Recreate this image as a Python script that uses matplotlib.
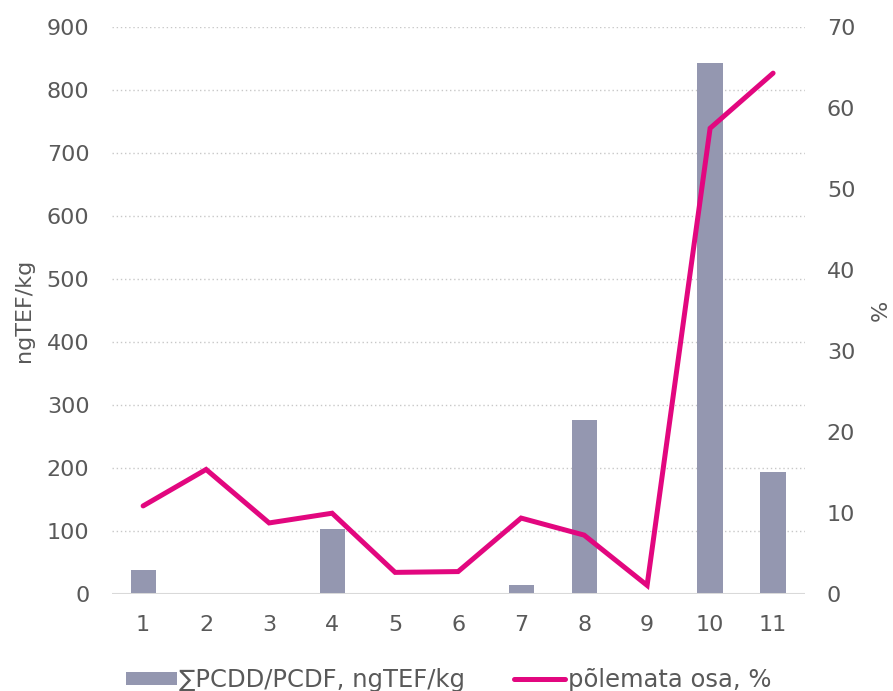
import numpy as np
import matplotlib.pyplot as plt

# sample numbers and measured values
samples = [1, 2, 3, 4, 5, 6, 7, 8, 9, 10, 11]
pcdd_pcdf = [38, 0, 0, 103, 0, 0, 15, 276, 0, 843, 194]   # ngTEF/kg
unburnt = [10.9, 15.4, 8.8, 10.0, 2.7, 2.8, 9.4, 7.3, 1.1, 57.5, 64.3]  # %

bar_color = '#9497B0'
line_color = '#E2077F'
text_color = '#595959'

plt.rcParams['font.family'] = ['DejaVu Sans']

fig = plt.figure(figsize=(8.93, 6.91), dpi=100)
ax = fig.add_axes([0.125, 0.140, 0.776, 0.821])
ax2 = ax.twinx()

x = np.arange(len(samples))
bars = ax.bar(x, pcdd_pcdf, width=0.4, color=bar_color, zorder=2,
              label='∑PCDD/PCDF, ngTEF/kg')
line, = ax2.plot(x, unburnt, color=line_color, lw=3.6, solid_capstyle='round',
                 solid_joinstyle='miter', label='põlemata osa, %')

ax.set_xlim(-0.5, len(samples) - 0.5)
ax.set_ylim(0, 900)
ax.set_yticks(range(0, 901, 100))
ax2.set_ylim(0, 70)
ax2.set_yticks(range(0, 71, 10))
ax.set_xticks(x)
ax.set_xticklabels([str(s) for s in samples])

ax.yaxis.grid(True, linestyle=(0, (1, 2)), color='#C8C8C8', lw=1.0, zorder=0)
ax.set_axisbelow(True)

for a in (ax, ax2):
    for side in ('top', 'left', 'right', 'bottom'):
        a.spines[side].set_visible(False)
    a.tick_params(length=0, labelsize=16, colors=text_color)
ax.axhline(0, color='#D9D9D9', lw=2.2, zorder=3)
ax.tick_params(axis='x', pad=15)
ax.tick_params(axis='y', pad=16)
ax2.tick_params(axis='y', pad=16)

ax.set_ylabel('ngTEF/kg', fontsize=16, color=text_color, labelpad=9)
ax2.set_ylabel('%', fontsize=16, color=text_color, labelpad=11)

fig.legend(handles=[bars, line], loc='center left',
           bbox_to_anchor=(126 / 893, 1 - 680 / 691),
           ncol=2, frameon=False, fontsize=17.5, labelcolor=text_color,
           borderpad=0, borderaxespad=0, handleheight=0.45,
           handlelength=2.1, handletextpad=0.1, columnspacing=2.0)

fig.savefig('out.png', dpi=100)
